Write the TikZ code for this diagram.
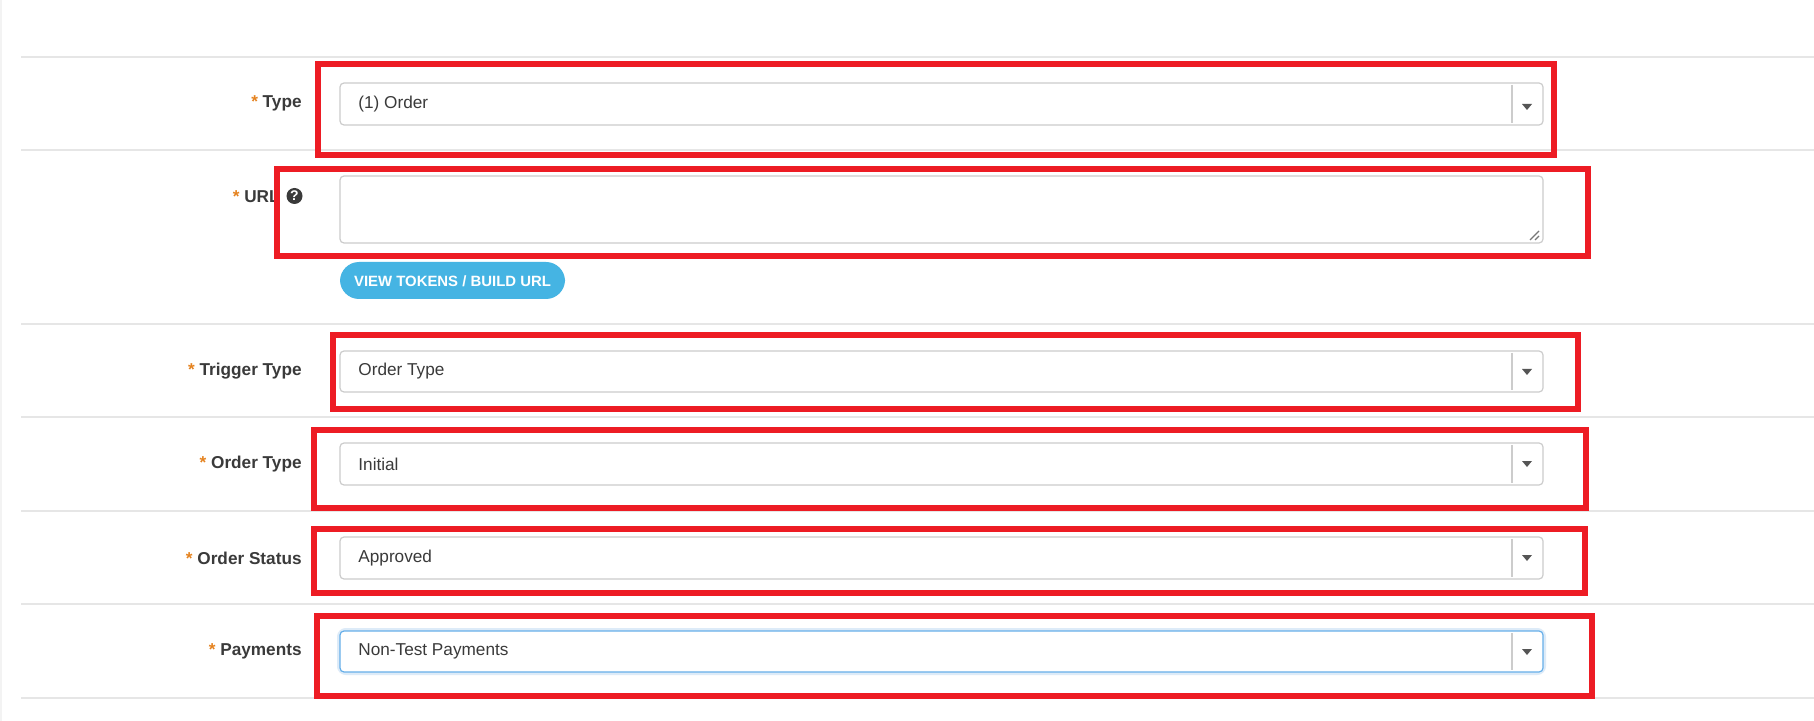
\documentclass[tikz,border=0pt]{standalone}
\usepackage{fontspec}
\setmainfont{Liberation Sans}
\usetikzlibrary{positioning}

\definecolor{mark}{HTML}{ED1C24}
\definecolor{req}{HTML}{E5821E}
\definecolor{rule}{HTML}{E6E6E6}
\definecolor{edge}{HTML}{CCCCCC}
\definecolor{focus}{HTML}{66AFE9}
\definecolor{glow}{HTML}{DDEBF8}
\definecolor{ink}{HTML}{3A3A3A}
\definecolor{btn}{HTML}{45B4E3}
\definecolor{caret}{HTML}{555555}

\tikzset{
  lbl/.style = {anchor = east, inner sep = 0pt, text = ink, font = \fontsize{8.6}{10}\selectfont\bfseries},
  val/.style = {anchor = west, inner sep = 0pt, text = ink, font = \fontsize{8.6}{10}\selectfont},
  field/.style = {draw = edge, line width = 0.6pt, rounded corners = 2pt, fill = white},
  redbox/.style = {draw = mark, line width = 2.8pt},
  sep/.style = {draw = rule, line width = 0.7pt},
  tri/.style = {fill = caret, draw = none}
}

\begin{document}
\begin{tikzpicture}[x = 0.5pt, y = -0.5pt]
\useasboundingbox (0, 0) rectangle (1814, 721);
\fill[white] (0, 0) rectangle (1814, 721);
\fill[rule!50] (0, 0) rectangle (2, 721);

% row separators
\draw[sep] (21, 57) -- (1814, 57);
\draw[sep] (21, 150) -- (1814, 150);
\draw[sep] (21, 324) -- (1814, 324);
\draw[sep] (21, 417) -- (1814, 417);
\draw[sep] (21, 511) -- (1814, 511);
\draw[sep] (21, 604) -- (1814, 604);
\draw[sep] (21, 698) -- (1814, 698);

% labels
\node[lbl] (typeL) at (302, 103) {\textcolor{req}{*} Type};
\node[lbl] (urlL) at (280, 197) {\textcolor{req}{*} URL};
\node[lbl] (trigL) at (302, 371) {\textcolor{req}{*} Trigger Type};
\node[lbl] (ordL) at (302, 464) {\textcolor{req}{*} Order Type};
\node[lbl] (statL) at (302, 558) {\textcolor{req}{*} Order Status};
\node[lbl] (payL) at (302, 651) {\textcolor{req}{*} Payments};
\node[circle, fill = ink, inner sep = 0pt, minimum size = 8pt] (help) at (294.5, 196) {};
\node[text = white, inner sep = 0pt, font = \fontsize{7}{7}\selectfont\bfseries] at (help) {?};

% fields
\draw[field] (340, 83) rectangle (1543, 125);
\draw[field] (340, 176) rectangle (1543, 243);
\draw[field] (340, 351) rectangle (1543, 392);
\draw[field] (340, 443) rectangle (1543, 485);
\draw[field] (340, 537) rectangle (1543, 579);
\draw[glow, line width = 3pt, rounded corners = 3pt] (340, 631) rectangle (1543, 672);
\draw[field, draw = focus] (340, 631) rectangle (1543, 672);

% dropdown parts
\draw[edge, line width = 0.6pt] (1512, 85) -- (1512, 123);
\draw[edge, line width = 0.6pt] (1512, 353) -- (1512, 390);
\draw[edge, line width = 0.6pt] (1512, 445) -- (1512, 483);
\draw[edge, line width = 0.6pt] (1512, 539) -- (1512, 577);
\draw[edge, line width = 0.6pt] (1512, 633) -- (1512, 670);
\fill[tri] (1522, 104) -- (1532, 104) -- (1527, 110) -- cycle;
\fill[tri] (1522, 369) -- (1532, 369) -- (1527, 375) -- cycle;
\fill[tri] (1522, 461) -- (1532, 461) -- (1527, 467) -- cycle;
\fill[tri] (1522, 555) -- (1532, 555) -- (1527, 561) -- cycle;
\fill[tri] (1522, 649) -- (1532, 649) -- (1527, 655) -- cycle;

% resize grip
\draw[caret!80, line width = 0.6pt] (1530, 240) -- (1539, 231);
\draw[caret!80, line width = 0.6pt] (1535, 240) -- (1539, 236);

% field texts
\node[val] (typeV) at (358, 104) {(1) Order};
\node[val] (trigV) at (358, 371) {Order Type};
\node[val] (ordV) at (358, 464) {Initial};
\node[val] (statV) at (358, 558) {Approved};
\node[val] (payV) at (358, 651) {Non-Test Payments};

% button
\draw[fill = btn, draw = none, rounded corners = 9.5pt] (340, 262) rectangle (565, 299);
\node[text = white, inner sep = 0pt, font = \fontsize{7.45}{9}\selectfont\bfseries] (tokB) at (452.5, 281) {VIEW TOKENS / BUILD URL};

% red highlight boxes
\draw[redbox] (318, 64) rectangle (1554, 155);
\draw[redbox] (277, 169) rectangle (1588, 256);
\draw[redbox] (333, 335) rectangle (1578, 409);
\draw[redbox] (314, 430) rectangle (1586, 508);
\draw[redbox] (314, 529) rectangle (1585, 593);
\draw[redbox] (317, 616) rectangle (1592, 696);
\end{tikzpicture}
\end{document}
